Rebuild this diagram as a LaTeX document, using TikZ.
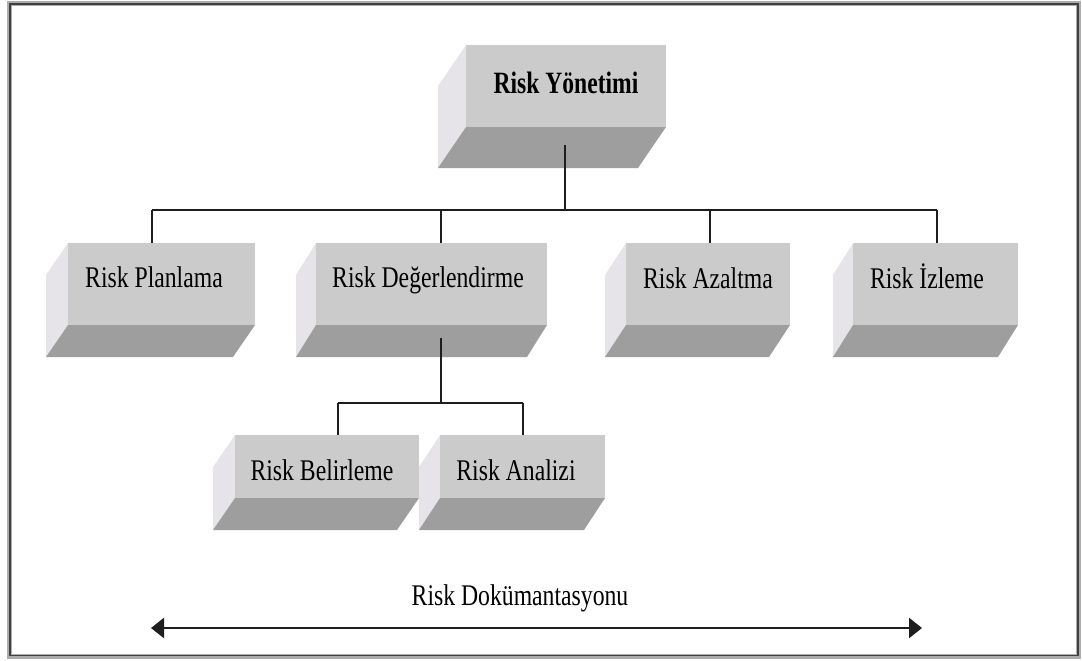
\documentclass[tikz,border=0pt]{standalone}
\usepackage{fontspec}
\usepackage{graphicx}
\setmainfont{Liberation Serif}
\usetikzlibrary{arrows.meta,calc}
\definecolor{frontcol}{RGB}{203,203,203}
\definecolor{botcol}{RGB}{158,158,158}
\definecolor{sidecol}{RGB}{230,228,233}
\definecolor{linecol}{RGB}{30,30,30}
\newcommand\riskbox[7]{% name, x1, y1, x2, y2, dx, dy
  \fill[sidecol] (#2,#3) -- (#2-#6,#3+#7) -- (#2-#6,#5+#7) -- (#2,#5) -- cycle;
  \fill[botcol] (#2,#5) -- (#4,#5) -- (#4-#6,#5+#7) -- (#2-#6,#5+#7) -- cycle;
  \pgfmathsetmacro\rbw{#4-#2}\pgfmathsetmacro\rbh{#5-#3}
  \node[frontface, minimum width=\rbw pt, minimum height=\rbh pt] (#1) at ({(#2+#4)/2},{(#3+#5)/2}) {};
}
\tikzset{
  frontface/.style={fill=frontcol, draw=none, inner sep=0pt, outer sep=0pt},
  lbl/.style={anchor=base, inner sep=0pt, font=\fontsize{30}{32}\selectfont},
  conn/.style={draw=linecol, line width=1.5pt},
}
\newcommand\sq[1]{\scalebox{0.79}[1]{#1}}
\begin{document}
\begin{tikzpicture}[x=1pt,y=-1pt]
\useasboundingbox (0,0) rectangle (1082,661);
% frame
\draw[line width=5pt, gray!65] (9.5,3.5) rectangle (1078.5,656);
\draw[line width=1.3pt, black!75] (10,4) rectangle (1078,655.5);
% boxes
\riskbox{yon}{466}{45}{666}{127}{28}{41}
\riskbox{plan}{68}{243}{255}{325}{22}{32}
\riskbox{deg}{316}{243}{547}{325}{20}{32}
\riskbox{aza}{626}{243}{790}{325}{21}{32}
\riskbox{izl}{853}{243}{1018}{325}{20}{32}
\riskbox{bel}{235}{435}{419}{498}{22}{32}
\riskbox{ana}{440}{435}{605}{498}{21}{32}
% labels
\node[lbl, font=\fontsize{31}{33}\selectfont\bfseries] (yonT) at (566,93) {\scalebox{0.76}[1]{Risk Yönetimi}};
\node[lbl] (planT) at (154,287) {\sq{Risk Planlama}};
\node[lbl] (degT) at (428,287) {\sq{Risk Değerlendirme}};
\node[lbl] (azaT) at (708,288) {\sq{Risk Azaltma}};
\node[lbl] (izlT) at (927,288) {\sq{Risk İzleme}};
\node[lbl] (belT) at (322,480) {\sq{Risk Belirleme}};
\node[lbl] (anaT) at (516,480) {\sq{Risk Analizi}};
% connectors
\coordinate (yonStem) at (565,145);
\coordinate (busMid) at (565,210);
\coordinate (busL) at (152,210);
\coordinate (busD) at (441,210);
\coordinate (busA) at (710,210);
\coordinate (busR) at (937,210);
\draw[conn] (yonStem) -- (busMid);
\draw[conn] (busL) -- (busR);
\draw[conn] (busL) -- (plan.north -| busL);
\draw[conn] (busD) -- (deg.north -| busD);
\draw[conn] (busA) -- (aza.north -| busA);
\draw[conn] (busR) -- (izl.north -| busR);
\coordinate (degStem) at (441,338);
\coordinate (sub) at (441,403);
\coordinate (subL) at (338,403);
\coordinate (subR) at (523,403);
\draw[conn] (degStem) -- (sub);
\draw[conn] (subL) -- (subR);
\draw[conn] (subL) -- (bel.north -| subL);
\draw[conn] (subR) -- (ana.north -| subR);
% documentation arrow
\node[lbl] (docT) at (520,605) {\sq{Risk Dokümantasyonu}};
\coordinate (docL) at (151,628);
\coordinate (docR) at (922,628);
\draw[line width=2.5pt, linecol, {Triangle[length=13pt,width=20pt]}-{Triangle[length=13pt,width=20pt]}] (docL) -- (docR);
\end{tikzpicture}
\end{document}
